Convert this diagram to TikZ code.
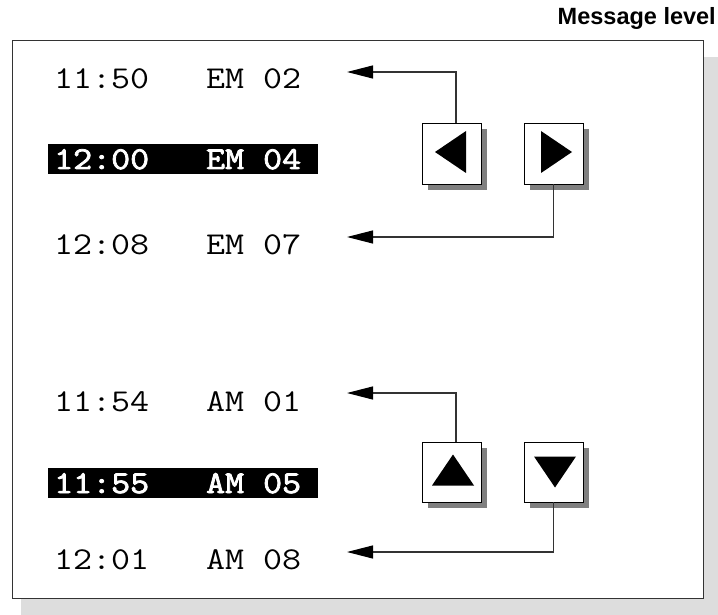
\documentclass[tikz,border=0pt]{standalone}
\usepackage{fontspec}
\setmainfont{Liberation Sans}
\newfontfamily\monofont{Latin Modern Mono}[FakeStretch=1.16]
\newfontfamily\monoboldfont{Latin Modern Mono}[FakeStretch=1.16,FakeBold=2.5]
\usetikzlibrary{arrows.meta}
\definecolor{shadowlight}{HTML}{DDDDDD}
\definecolor{shadowdark}{HTML}{808080}
\definecolor{linegray}{HTML}{333333}
\tikzset{
  txt/.style={font=\monofont\fontsize{31.8}{36}\selectfont, inner sep=0pt, anchor=base west},
  hltxt/.style={txt, font=\monoboldfont\fontsize{31.8}{36}\selectfont, text=white},
  hlbox/.style={fill=black, minimum width=270pt, minimum height=30pt, inner sep=0pt, anchor=north west},
  btn/.style={draw=black, line width=0.9pt, fill=white, minimum size=59pt, inner sep=0pt},
  btnshadow/.style={fill=shadowdark},
  conn/.style={draw=linegray, line width=1.1pt, -{Triangle[length=26pt,width=13pt,color=black,fill=black]}},
}
\begin{document}
\begin{tikzpicture}[x=1pt,y=-1pt]
\useasboundingbox (0,0) rectangle (718,615);
% background shadow and frame
\fill[shadowlight] (21,57) rectangle (718,615);
\node[draw=linegray, line width=1.1pt, fill=white, minimum width=691pt, minimum height=558pt,
      inner sep=0pt, anchor=north west] (frame) at (12,40) {};
\node[font=\bfseries\fontsize{23.5}{27}\selectfont, anchor=base east, inner sep=0pt] (title) at (716,25) {Message level};

% text lines (top group)
\node[txt] (t1) at (54,89) {11:50\ \ \ EM\ 02};
\node[hlbox] (h1) at (48,144) {};
\node[hltxt] (t2) at (54,169) {12:00\ \ \ EM\ 04};
\node[txt] (t3) at (54,254) {12:08\ \ \ EM\ 07};

% text lines (bottom group)
\node[txt] (t4) at (54,411) {11:54\ \ \ AM\ 01};
\node[hlbox] (h2) at (48,468) {};
\node[hltxt] (t5) at (54,493) {11:55\ \ \ AM\ 05};
\node[txt] (t6) at (54,569) {12:01\ \ \ AM\ 08};

% button shadows
\fill[btnshadow] (428,129) rectangle (487,190);
\fill[btnshadow] (530,129) rectangle (589,190);
\fill[btnshadow] (428,448) rectangle (487,508);
\fill[btnshadow] (530,448) rectangle (589,508);

% buttons
\node[btn, minimum height=61pt] (bl) at (451.5,153.5) {};
\node[btn, minimum height=61pt] (br) at (553.5,153.5) {};
\node[btn, minimum height=60pt] (bu) at (451.5,472) {};
\node[btn, minimum height=60pt] (bd) at (553.5,472) {};

% triangles
\fill (bl.center) ++(-16.5,-1.5) -- ++(31,-21) -- ++(0,42) -- cycle;
\fill (br.center) ++(18.5,-1.5) -- ++(-31,-21) -- ++(0,42) -- cycle;
\fill (bu.center) ++(1.5,-17.5) -- ++(21,31) -- ++(-42,0) -- cycle;
\fill (bd.center) ++(1.5,15.5) -- ++(21,-31) -- ++(-42,0) -- cycle;

% arrow tips
\coordinate (a1) at (347,72);
\coordinate (a3) at (347,237);
\coordinate (a4) at (347,393);
\coordinate (a6) at (347,552);

% connectors
\draw[conn] (bl.north -| 456,0) |- (a1);
\draw[conn] (br.south) |- (a3);
\draw[conn] (bu.north -| 456,0) |- (a4);
\draw[conn] (bd.south) |- (a6);
\end{tikzpicture}
\end{document}
